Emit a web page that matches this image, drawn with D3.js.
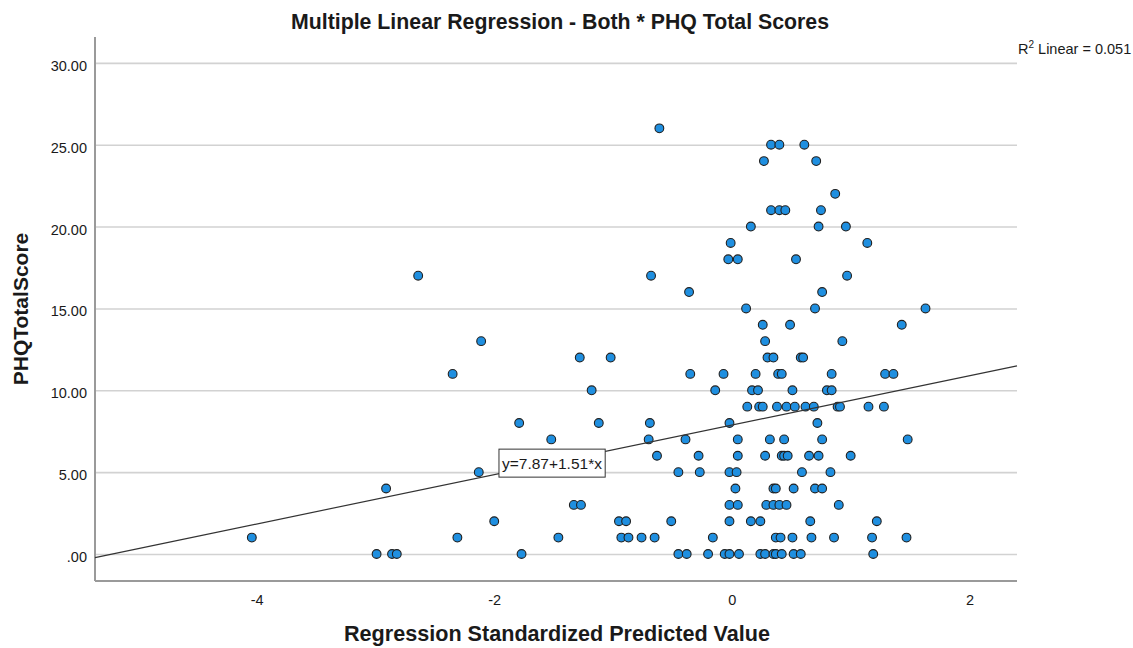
<!DOCTYPE html>
<html>
<head>
<meta charset="utf-8">
<script src="https://cdn.jsdelivr.net/npm/d3@7"></script>
<style>
  body { margin: 0; background: #fff; }
  svg { display: block; }
  text { font-family: "Liberation Sans", Arial, Helvetica, sans-serif; fill: #1a1a1a; }
</style>
</head>
<body>
<svg id="chart" width="1133" height="648"></svg>
<script>
// PHQ total score levels and the standardized predicted values of the respondents at each level
const scoreLevels = [0, 1, 2, 3, 4, 5, 6, 7, 8, 9, 10, 11, 12, 13, 14, 15, 16, 17, 18, 19, 20, 21, 22, 24, 25, 26];
const predictedByScore = [
  [-2.99, -2.86, -2.82, -1.77, -0.45, -0.38, -0.20, -0.06, -0.02, 0.06, 0.24, 0.28, 0.35, 0.37, 0.42, 0.52, 0.58, 1.19],
  [-4.04, -2.31, -1.46, -0.93, -0.87, -0.76, -0.65, -0.16, 0.37, 0.41, 0.51, 0.67, 0.86, 1.18, 1.47],
  [-2.00, -0.95, -0.89, -0.51, -0.02, 0.16, 0.24, 0.66, 1.22],
  [-1.33, -1.27, -0.02, 0.05, 0.29, 0.35, 0.40, 0.46, 0.90],
  [-2.91, 0.03, 0.35, 0.37, 0.52, 0.70, 0.76],
  [-2.13, -1.14, -0.45, -0.27, -0.02, 0.04, 0.59, 0.83],
  [-0.63, -0.28, 0.05, 0.28, 0.42, 0.44, 0.47, 0.65, 0.73, 1.00],
  [-1.52, -0.70, -0.39, 0.05, 0.32, 0.44, 0.76, 1.48],
  [-1.79, -1.12, -0.69, -0.02, 0.72],
  [0.13, 0.23, 0.26, 0.38, 0.46, 0.53, 0.62, 0.69, 0.89, 0.91, 1.15, 1.28],
  [-1.18, -0.14, 0.17, 0.22, 0.51, 0.80, 0.84],
  [-2.35, -0.35, -0.07, 0.20, 0.39, 0.42, 0.84, 1.29, 1.36],
  [-1.28, -1.02, 0.30, 0.35, 0.58, 0.60],
  [-2.11, 0.28, 0.93],
  [0.26, 0.49, 1.43],
  [0.12, 0.70, 1.63],
  [-0.36, 0.76],
  [-2.64, -0.68, 0.97],
  [-0.03, 0.05, 0.54],
  [-0.01, 1.14],
  [0.16, 0.73, 0.96],
  [0.33, 0.40, 0.45, 0.75],
  [0.87],
  [0.27, 0.71],
  [0.33, 0.40, 0.61],
  [-0.61]
];

const yTickValues = [0, 5, 10, 15, 20, 25, 30];
const xTickValues = [-4, -2, 0, 2];

// Linear fit of PHQ total on the standardized predicted value
const fitIntercept = 7.87;
const fitSlope = 1.51;
const rSquared = 0.051;

const chartTitle = "Multiple Linear Regression - Both * PHQ Total Scores";
const xTitle = "Regression Standardized Predicted Value";
const yTitle = "PHQTotalScore";

// ---- layout ----
const plot = { left: 95, right: 1017, top: 37, bottom: 581 };
const xDomain = [-5.36, 2.40];
const yDomain = [-1.65, 31.58];

const svg = d3.select("#chart");
const x = d3.scaleLinear().domain(xDomain).range([plot.left, plot.right]);
const y = d3.scaleLinear().domain(yDomain).range([plot.bottom, plot.top]);

const points = scoreLevels.flatMap((s, i) => predictedByScore[i].map(p => ({ x: p, y: s })));

// horizontal gridlines with the y tick labels
const yAxis = d3.axisLeft(y)
  .tickValues(yTickValues)
  .tickSize(-(plot.right - plot.left))
  .tickPadding(8)
  .tickFormat(v => v === 0 ? ".00" : d3.format(".2f")(v));

const gy = svg.append("g")
  .attr("transform", `translate(${plot.left},0)`)
  .call(yAxis);
gy.select(".domain").remove();
gy.selectAll(".tick line").attr("stroke", "#d2d2d2").attr("stroke-width", 1.6);
gy.selectAll(".tick text")
  .attr("dy", "0.52em")
  .style("font-size", "14.5px")
  .style("fill", "#1a1a1a");

// x tick labels (plain hyphen for negatives)
const xAxis = d3.axisBottom(x)
  .tickValues(xTickValues)
  .tickSize(0)
  .tickPadding(14)
  .tickFormat(v => String(v));
const gx = svg.append("g")
  .attr("transform", `translate(0,${plot.bottom})`)
  .call(xAxis);
gx.select(".domain").remove();
gx.selectAll(".tick text").style("font-size", "14.5px").style("fill", "#1a1a1a");

// axis lines
svg.append("line")
  .attr("x1", plot.left).attr("x2", plot.left)
  .attr("y1", plot.top).attr("y2", plot.bottom)
  .attr("stroke", "#9a9a9a").attr("stroke-width", 2);
svg.append("line")
  .attr("x1", plot.left).attr("x2", plot.right)
  .attr("y1", plot.bottom).attr("y2", plot.bottom)
  .attr("stroke", "#9a9a9a").attr("stroke-width", 2);

// scatter points
svg.append("g")
  .selectAll("circle")
  .data(points)
  .join("circle")
  .attr("cx", d => x(d.x))
  .attr("cy", d => y(d.y))
  .attr("r", 4.4)
  .attr("fill", "#1f8fe0")
  .attr("stroke", "#202020")
  .attr("stroke-width", 1.1);

// fit line across the plotted range
const fit = v => fitIntercept + fitSlope * v;
svg.append("line")
  .attr("x1", x(xDomain[0])).attr("y1", y(fit(xDomain[0])))
  .attr("x2", x(xDomain[1])).attr("y2", y(fit(xDomain[1])))
  .attr("stroke", "#333")
  .attr("stroke-width", 1.2);

// equation label
const eqText = `y=${fitIntercept.toFixed(2)}+${fitSlope.toFixed(2)}*x`;
const eqGroup = svg.append("g");
const eqRect = eqGroup.append("rect").attr("fill", "#fff").attr("stroke", "#333").attr("stroke-width", 1);
const eqLabel = eqGroup.append("text")
  .attr("x", x(-1.96) + 3)
  .attr("y", y(5.55))
  .attr("dominant-baseline", "central")
  .style("font-size", "15.5px")
  .text(eqText);
const bb = eqLabel.node().getBBox();
eqRect
  .attr("x", bb.x - 3)
  .attr("y", y(5.55) - 14)
  .attr("width", bb.width + 6)
  .attr("height", 28);

// R squared note
const r2 = svg.append("text")
  .attr("x", 1018)
  .attr("y", 54)
  .style("font-size", "14.5px");
r2.append("tspan").text("R");
r2.append("tspan").attr("dy", -6).style("font-size", "10px").text("2");
r2.append("tspan").attr("dy", 6).text(` Linear = ${rSquared.toFixed(3)}`);

// titles
svg.append("text")
  .attr("x", 560)
  .attr("y", 29)
  .attr("text-anchor", "middle")
  .style("font-size", "21.3px")
  .style("font-weight", "bold")
  .text(chartTitle);

svg.append("text")
  .attr("x", 557)
  .attr("y", 641)
  .attr("text-anchor", "middle")
  .style("font-size", "21.6px")
  .style("font-weight", "bold")
  .text(xTitle);

svg.append("text")
  .attr("transform", `translate(28,${(plot.top + plot.bottom) / 2}) rotate(-90)`)
  .attr("text-anchor", "middle")
  .style("font-size", "21px")
  .style("font-weight", "bold")
  .text(yTitle);
</script>
</body>
</html>
